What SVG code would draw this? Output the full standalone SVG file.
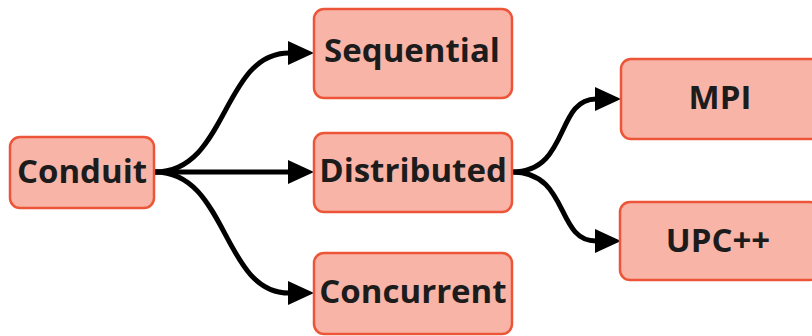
<svg xmlns="http://www.w3.org/2000/svg" width="812" height="336" viewBox="0 0 812 336">
  <style>
    .box { fill: #f9b4a8; stroke: #ec5538; stroke-width: 2.5; }
    .label { font-family: "Open Sans", "Noto Sans", sans-serif; font-weight: 700; font-size: 33px; fill: #1c1c1c; text-anchor: middle; dominant-baseline: central; }
    .edge { fill: none; stroke: #000; stroke-width: 5; marker-end: url(#arrow); }
  </style>
  <defs>
    <marker id="arrow" markerUnits="userSpaceOnUse" viewBox="0 0 26 24" refX="1" refY="12" markerWidth="26" markerHeight="24" orient="auto">
      <path d="M0,0 L26,12 L0,24 Z" fill="#000"/>
    </marker>
  </defs>

  <g id="connectors">
    <path class="edge" d="M155,172 C228,172 222,53 289,53"/>
    <path class="edge" d="M155,172 L289,172"/>
    <path class="edge" d="M155,172 C228,172 222,293 289,293"/>
    <path class="edge" d="M512,172 C570,172 555,99 596,99"/>
    <path class="edge" d="M512,172 C570,172 555,241 596,241"/>
  </g>

  <g id="node-conduit">
    <rect class="box" x="10" y="137" width="144" height="71" rx="10"/>
    <text class="label" x="82" y="170">Conduit</text>
  </g>
  <g id="node-sequential">
    <rect class="box" x="314" y="9" width="198" height="89" rx="10"/>
    <text class="label" x="412" y="49">Sequential</text>
  </g>
  <g id="node-distributed">
    <rect class="box" x="314" y="133" width="198" height="79" rx="10"/>
    <text class="label" x="413" y="169">Distributed</text>
  </g>
  <g id="node-concurrent">
    <rect class="box" x="314" y="253" width="198" height="81" rx="10"/>
    <text class="label" x="413" y="290">Concurrent</text>
  </g>
  <g id="node-mpi">
    <rect class="box" x="621" y="59" width="200" height="80" rx="10"/>
    <text class="label" x="720" y="96">MPI</text>
  </g>
  <g id="node-upcxx">
    <rect class="box" x="620" y="202" width="200" height="78" rx="10"/>
    <text class="label" x="718" y="239">UPC++</text>
  </g>
</svg>
